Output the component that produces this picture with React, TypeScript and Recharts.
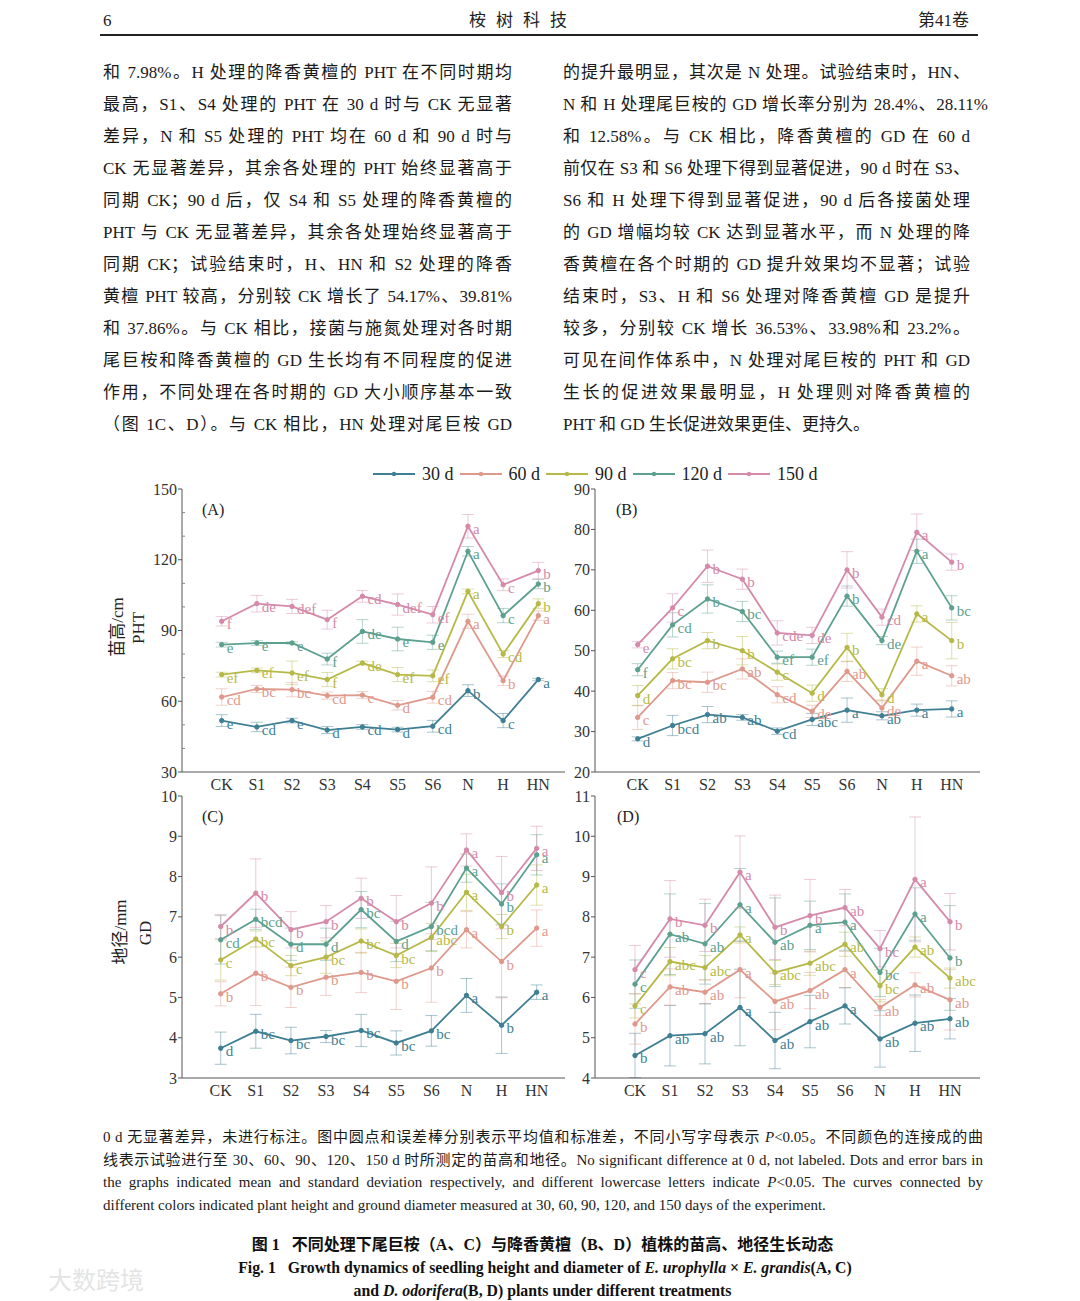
import React from 'react';
import { LineChart, Line, XAxis, YAxis, ErrorBar, LabelList } from 'recharts';

const SERIF = "'Liberation Serif', 'Times New Roman', 'Noto Sans CJK SC', serif";
const TEXT = "'Liberation Serif', 'Noto Sans CJK SC', serif";

const categories = ['CK', 'S1', 'S2', 'S3', 'S4', 'S5', 'S6', 'N', 'H', 'HN'];
const categoryIndex = [0, 1, 2, 3, 4, 5, 6, 7, 8, 9];
const seriesNames = ['30 d', '60 d', '90 d', '120 d', '150 d'];
const seriesColors = ['#3f7f93', '#df998c', '#b6b947', '#5ca08f', '#d48aa8'];

// (A) PHT of E. urophylla x E. grandis
const aMean = [
  [51.8, 49.1, 51.8, 47.8, 49.1, 48.0, 49.4, 64.5, 51.8, 69.2],
  [61.8, 65.2, 64.9, 62.4, 62.6, 58.3, 61.7, 93.9, 68.7, 96.3],
  [71.3, 73.1, 72.0, 69.2, 76.2, 71.3, 70.8, 106.6, 80.0, 101.4],
  [84.0, 84.7, 84.7, 77.9, 89.6, 86.4, 85.0, 123.6, 96.3, 109.7],
  [93.9, 101.4, 100.2, 94.6, 104.5, 101.0, 96.7, 134.2, 109.4, 115.4],
];
const aErr = [
  [2.5, 2, 1, 1.5, 1, 1, 2.5, 2.5, 3, 0.5],
  [3.5, 1.5, 3, 1.5, 1.5, 2, 2.5, 3, 2, 2],
  [1, 1, 5, 3, 0.8, 3, 2.5, 1, 1.5, 2],
  [1, 1, 0.5, 2.5, 5, 5, 3, 2, 3, 2],
  [2, 3.5, 3, 4, 2.5, 4.5, 3.5, 5, 2.5, 3.5],
];
const aSig = [
  ['e', 'cd', 'e', 'd', 'cd', 'd', 'cd', 'b', 'c', 'a'],
  ['cd', 'bc', 'bc', 'cd', 'c', 'd', 'cd', 'a', 'b', 'a'],
  ['ef', 'ef', 'ef', 'f', 'de', 'ef', 'ef', 'a', 'cd', 'b'],
  ['e', 'e', 'e', 'f', 'de', 'e', 'e', 'a', 'c', 'b'],
  ['f', 'de', 'def', 'f', 'cd', 'def', 'ef', 'a', 'c', 'b'],
];

// (B) PHT of D. odorifera
const bMean = [
  [28.2, 31.5, 34.2, 33.5, 30.1, 33.0, 35.3, 33.9, 35.3, 35.6],
  [33.5, 42.6, 42.2, 45.5, 39.1, 35.0, 44.9, 35.8, 47.4, 43.8],
  [38.9, 48.0, 52.5, 50.0, 44.7, 39.5, 50.8, 39.1, 59.1, 52.5],
  [45.3, 56.4, 62.8, 59.7, 48.4, 48.4, 63.5, 52.5, 74.6, 60.6],
  [51.5, 60.6, 70.9, 67.7, 54.4, 53.8, 70.0, 58.3, 79.3, 71.9],
];
const bErr = [
  [0.5, 2.5, 2, 0.7, 0.8, 1.5, 3, 1, 1.5, 2],
  [3, 2, 2.5, 2.5, 2, 1.5, 2.5, 2, 3.5, 2.5],
  [2.5, 2.5, 2, 3.5, 2, 2, 3.5, 1.5, 2, 4.5],
  [1.5, 3, 3.5, 2.5, 1.5, 2, 2.5, 1, 3, 3],
  [0.8, 3.5, 4, 2.5, 3, 2, 4.5, 2, 4.5, 2],
];
const bSig = [
  ['d', 'bcd', 'ab', 'ab', 'cd', 'abc', 'a', 'ab', 'a', 'a'],
  ['c', 'bc', 'bc', 'ab', 'cd', 'de', 'ab', 'de', 'a', 'ab'],
  ['d', 'bc', 'b', 'b', 'c', 'd', 'b', 'd', 'a', 'b'],
  ['f', 'cd', 'b', 'bc', 'ef', 'ef', 'b', 'de', 'a', 'bc'],
  ['e', 'c', 'b', 'b', 'cde', 'de', 'b', 'cd', 'a', 'b'],
];

// (C) GD of E. urophylla x E. grandis
const cMean = [
  [3.74, 4.16, 3.93, 4.03, 4.18, 3.87, 4.17, 5.05, 4.31, 5.13],
  [5.09, 5.60, 5.25, 5.50, 5.62, 5.40, 5.73, 6.68, 5.89, 6.72],
  [5.93, 6.45, 5.79, 6.00, 6.40, 6.04, 6.49, 7.61, 6.76, 7.79],
  [6.43, 6.94, 6.32, 6.32, 7.18, 6.39, 6.76, 8.21, 7.32, 8.54],
  [6.76, 7.59, 6.68, 6.88, 7.46, 6.88, 7.34, 8.66, 7.60, 8.70],
];
const cErr = [
  [0.4, 0.42, 0.33, 0.15, 0.4, 0.3, 0.38, 0.42, 0.7, 0.18],
  [0.3, 0.8, 0.5, 0.45, 0.5, 0.7, 0.85, 0.45, 0.9, 0.45],
  [0.5, 0.2, 0.25, 0.4, 0.3, 0.3, 0.35, 0.45, 0.3, 0.5],
  [0.6, 0.25, 0.4, 0.4, 0.45, 0.5, 0.6, 0.35, 0.5, 0.5],
  [0.3, 0.85, 0.45, 0.4, 0.5, 0.65, 0.9, 0.4, 0.9, 0.55],
];
const cSig = [
  ['d', 'bc', 'bc', 'bc', 'bc', 'bc', 'bc', 'a', 'b', 'a'],
  ['b', 'b', 'b', 'b', 'b', 'b', 'b', 'a', 'b', 'a'],
  ['c', 'bc', 'c', 'bc', 'bc', 'bc', 'abc', 'a', 'b', 'a'],
  ['cd', 'bcd', 'd', 'd', 'bc', 'd', 'bcd', 'a', 'b', 'a'],
  ['b', 'b', 'b', 'b', 'b', 'b', 'b', 'a', 'b', 'a'],
];

// (D) GD of D. odorifera
const dMean = [
  [4.56, 5.05, 5.10, 5.75, 4.93, 5.40, 5.79, 4.97, 5.36, 5.47],
  [5.34, 6.26, 6.13, 6.69, 5.90, 6.17, 6.69, 5.75, 6.31, 5.94],
  [5.79, 6.89, 6.74, 7.55, 6.62, 6.85, 7.32, 6.29, 7.25, 6.48],
  [6.33, 7.57, 7.33, 8.30, 7.37, 7.79, 7.87, 6.62, 8.07, 6.98],
  [6.69, 7.95, 7.79, 9.11, 7.74, 8.03, 8.23, 7.21, 8.93, 7.88],
];
const dErr = [
  [0.55, 0.75, 0.75, 0.95, 0.7, 0.65, 0.45, 0.7, 0.7, 0.5],
  [0.5, 0.45, 0.3, 0.7, 0.7, 0.45, 0.45, 0.2, 0.3, 0.75],
  [0.3, 0.35, 0.3, 0.2, 0.3, 0.3, 0.3, 0.4, 0.25, 0.25],
  [0.6, 1.0, 1.0, 0.9, 1.1, 0.6, 0.7, 0.6, 0.65, 1.3],
  [0.6, 0.95, 0.65, 0.9, 0.8, 0.9, 0.45, 0.45, 1.55, 0.7],
];
const dSig = [
  ['b', 'ab', 'ab', 'a', 'ab', 'ab', 'a', 'ab', 'ab', 'ab'],
  ['b', 'ab', 'ab', 'a', 'ab', 'ab', 'a', 'ab', 'ab', 'ab'],
  ['c', 'abc', 'abc', 'a', 'abc', 'abc', 'ab', 'bc', 'ab', 'abc'],
  ['c', 'ab', 'ab', 'a', 'ab', 'a', 'a', 'bc', 'a', 'b'],
  ['c', 'b', 'b', 'a', 'b', 'b', 'ab', 'bc', 'a', 'b'],
];

const aTicks = [30, 40, 50, 60, 70, 80, 90, 100, 110, 120, 130, 140, 150];
const aTickLabels = [30, 60, 90, 120, 150];
const bTicks = [20, 30, 40, 50, 60, 70, 80, 90];
const cTicks = [3, 4, 5, 6, 7, 8, 9, 10];
const dTicks = [4, 5, 6, 7, 8, 9, 10, 11];

const leftLines = [
  '和 7.98%。H 处理的降香黄檀的 PHT 在不同时期均',
  '最高，S1、S4 处理的 PHT 在 30 d 时与 CK 无显著',
  '差异，N 和 S5 处理的 PHT 均在 60 d 和 90 d 时与',
  'CK 无显著差异，其余各处理的 PHT 始终显著高于',
  '同期 CK；90 d 后，仅 S4 和 S5 处理的降香黄檀的',
  'PHT 与 CK 无显著差异，其余各处理始终显著高于',
  '同期 CK；试验结束时，H、HN 和 S2 处理的降香',
  '黄檀 PHT 较高，分别较 CK 增长了 54.17%、39.81%',
  '和 37.86%。与 CK 相比，接菌与施氮处理对各时期',
  '尾巨桉和降香黄檀的 GD 生长均有不同程度的促进',
  '作用，不同处理在各时期的 GD 大小顺序基本一致',
  '（图 1C、D）。与 CK 相比，HN 处理对尾巨桉 GD',
];
const rightLines = [
  '的提升最明显，其次是 N 处理。试验结束时，HN、',
  'N 和 H 处理尾巨桉的 GD 增长率分别为 28.4%、28.11%',
  '和 12.58%。与 CK 相比，降香黄檀的 GD 在 60 d',
  '前仅在 S3 和 S6 处理下得到显著促进，90 d 时在 S3、',
  'S6 和 H 处理下得到显著促进，90 d 后各接菌处理',
  '的 GD 增幅均较 CK 达到显著水平，而 N 处理的降',
  '香黄檀在各个时期的 GD 提升效果均不显著；试验',
  '结束时，S3、H 和 S6 处理对降香黄檀 GD 是提升',
  '较多，分别较 CK 增长 36.53%、33.98%和 23.2%。',
  '可见在间作体系中，N 处理对尾巨桉的 PHT 和 GD',
  '生长的促进效果最明显，H 处理则对降香黄檀的',
  'PHT 和 GD 生长促进效果更佳、更持久。',
];

function buildRows(mean: number[][], err: number[][], sig: string[][]) {
  return categories.map((c, i) => {
    const r: any = { cat: c, idx: categoryIndex[i] };
    for (let s = 0; s < mean.length; s++) {
      r['m' + s] = mean[s][i];
      r['e' + s] = err[s][i];
      r['l' + s] = sig[s][i];
    }
    return r;
  });
}

const sigLabel = (color: string) => (p: any) => {
  const { x, y, value } = p;
  if (x == null || y == null) return null;
  return (
    <text x={Number(x) + 5} y={Number(y) + 3} fill={color} fontSize={15} fontFamily={SERIF} dominantBaseline="central">
      {value}
    </text>
  );
};

const makeYTick = (labeled: number[] | null) => (p: any) => {
  const { x, y, payload } = p;
  const v = payload.value;
  const major = !labeled || labeled.indexOf(v) >= 0;
  return (
    <g>
      {major ? (
        <line x1={x} x2={x - 4} y1={y} y2={y} stroke="#555" strokeWidth={1} />
      ) : (
        <line x1={x} x2={x + 3} y1={y} y2={y} stroke="#888" strokeWidth={1} />
      )}
      {major && (
        <text x={x - 5} y={y} textAnchor="end" dominantBaseline="central" fontSize={16} fill="#333" fontFamily={SERIF}>
          {v}
        </text>
      )}
    </g>
  );
};

type PanelProps = {
  plot: [number, number, number, number];
  domain: [number, number];
  xDomain: [number, number];
  ticks: number[];
  labeled: number[] | null;
  tag: string;
  tagPos: [number, number];
  rows: any[];
};

function Panel({ plot, domain, xDomain, ticks, labeled, tag, tagPos, rows }: PanelProps) {
  const [pl, pt, pr, pb] = plot;
  const mL = 42, yW = 40, mT = 20, mR = 12, xH = 28;
  const left = pl - mL - yW;
  const top = pt - mT;
  const width = pr + mR - left;
  const height = pb + xH - top;
  return (
    <>
      <div style={{ position: 'absolute', left, top, width, height }}>
        <LineChart width={width} height={height} data={rows} margin={{ top: mT, right: mR, bottom: 0, left: mL }}>
          <XAxis
            dataKey="idx"
            type="number"
            domain={xDomain}
            ticks={categoryIndex}
            tickFormatter={(v: number) => categories[v]}
            allowDataOverflow
            height={xH}
            tickLine={false}
            tickSize={0}
            tickMargin={7}
            interval={0}
            axisLine={{ stroke: '#555', strokeWidth: 1 }}
            tick={{ fontSize: 16, fill: '#333', fontFamily: SERIF }}
          />
          <YAxis
            type="number"
            domain={domain}
            ticks={ticks}
            width={yW}
            interval={0}
            tickLine={false}
            tickSize={0}
            tickMargin={0}
            allowDataOverflow
            axisLine={{ stroke: '#555', strokeWidth: 1 }}
            tick={makeYTick(labeled)}
          />
          {seriesNames.map((name, s) => (
            <Line
              key={name}
              name={name}
              type="linear"
              dataKey={'m' + s}
              stroke={seriesColors[s]}
              strokeWidth={1.8}
              dot={{ r: 2.2, fill: seriesColors[s], stroke: seriesColors[s], strokeWidth: 1 }}
              activeDot={false}
              isAnimationActive={false}
            >
              <ErrorBar dataKey={'e' + s} width={6} stroke={seriesColors[s]} strokeOpacity={0.45} strokeWidth={1} direction="y" isAnimationActive={false} />
              <LabelList dataKey={'l' + s} content={sigLabel(seriesColors[s])} />
            </Line>
          ))}
        </LineChart>
      </div>
      <div style={{ position: 'absolute', left: tagPos[0], top: tagPos[1] - 10, fontSize: 16, lineHeight: '20px', fontFamily: SERIF, color: '#222' }}>
        {tag}
      </div>
    </>
  );
}

function RotLabel({ cx, cy, text }: { cx: number; cy: number; text: string }) {
  return (
    <div
      style={{
        position: 'absolute',
        left: cx,
        top: cy,
        transform: 'translate(-50%, -50%) rotate(-90deg)',
        whiteSpace: 'nowrap',
        fontSize: 17,
        lineHeight: '20px',
        fontFamily: TEXT,
        color: '#222',
      }}
    >
      {text}
    </div>
  );
}

function JLine({ left, top, width, children, last, size, lh }: any) {
  return (
    <div
      style={{
        position: 'absolute',
        left,
        top,
        width,
        fontSize: size,
        lineHeight: lh + 'px',
        height: lh,
        textAlign: last ? 'left' : 'justify',
        textAlignLast: last ? 'left' : 'justify',
        fontFamily: TEXT,
        color: '#1a1a1a',
      }}
    >
      {children}
    </div>
  );
}

export default function App() {
  const rowsA = buildRows(aMean, aErr, aSig);
  const rowsB = buildRows(bMean, bErr, bSig);
  const rowsC = buildRows(cMean, cErr, cSig);
  const rowsD = buildRows(dMean, dErr, dSig);
  return (
    <div style={{ position: 'absolute', left: 0, top: 0, width: 1080, height: 1301, background: '#fff', overflow: 'hidden' }}>
      {/* header */}
      <div style={{ position: 'absolute', left: 103, top: 10, fontSize: 17, lineHeight: '22px', fontFamily: TEXT, color: '#222' }}>6</div>
      <div style={{ position: 'absolute', left: 469, top: 10, fontSize: 17, lineHeight: '22px', fontFamily: TEXT, color: '#222', letterSpacing: '10px' }}>桉树科技</div>
      <div style={{ position: 'absolute', left: 918, top: 10, fontSize: 17, lineHeight: '22px', fontFamily: TEXT, color: '#222' }}>第41卷</div>
      <div style={{ position: 'absolute', left: 100, top: 34, width: 878, height: 2, background: '#222' }} />

      {leftLines.map((t, i) => (
        <JLine key={'l' + i} left={103} top={57 + 32 * i} width={409} size={17} lh={32}>{t}</JLine>
      ))}
      {rightLines.map((t, i) => (
        <JLine key={'r' + i} left={563} top={57 + 32 * i} width={i === 1 ? 425 : 407} size={17} lh={32} last={i === rightLines.length - 1}>{t}</JLine>
      ))}

      {/* legend */}
      <div style={{ position: 'absolute', left: 373, top: 462, height: 24, display: 'flex', alignItems: 'center' }}>
        {seriesNames.map((n, s) => (
          <div key={n} style={{ display: 'flex', alignItems: 'center', marginRight: 6 }}>
            <svg width={42} height={10}>
              <line x1={0} x2={42} y1={5} y2={5} stroke={seriesColors[s]} strokeWidth={1.8} />
              <circle cx={21} cy={5} r={2.2} fill={seriesColors[s]} />
            </svg>
            <span style={{ marginLeft: 7, fontSize: 18, fontFamily: SERIF, color: '#222', lineHeight: '24px' }}>{n}</span>
          </div>
        ))}
      </div>

      <Panel plot={[182, 489, 565, 772]} domain={[30, 150]} xDomain={[-1.128, 9.759]} ticks={aTicks} labeled={aTickLabels} tag="(A)" tagPos={[202, 510]} rows={rowsA} />
      <Panel plot={[595, 489, 980, 772]} domain={[20, 90]} xDomain={[-1.224, 9.811]} ticks={bTicks} labeled={null} tag="(B)" tagPos={[616, 510]} rows={rowsB} />
      <Panel plot={[182, 796, 565, 1078]} domain={[3, 10]} xDomain={[-1.102, 9.806]} ticks={cTicks} labeled={null} tag="(C)" tagPos={[202, 817]} rows={rowsC} />
      <Panel plot={[595, 796, 980, 1078]} domain={[4, 11]} xDomain={[-1.143, 9.857]} ticks={dTicks} labeled={null} tag="(D)" tagPos={[617, 817]} rows={rowsD} />

      <RotLabel cx={118} cy={627} text="苗高/cm" />
      <RotLabel cx={139} cy={628} text="PHT" />
      <RotLabel cx={121} cy={932} text="地径/mm" />
      <RotLabel cx={146} cy={933} text="GD" />

      <JLine left={103} top={1126} width={880} size={15} lh={22}>
        0 d 无显著差异，未进行标注。图中圆点和误差棒分别表示平均值和标准差，不同小写字母表示 <i>P</i>&lt;0.05。不同颜色的连接成的曲
      </JLine>
      <JLine left={103} top={1149} width={880} size={15} lh={22}>
        线表示试验进行至 30、60、90、120、150 d 时所测定的苗高和地径。No significant difference at 0 d, not labeled. Dots and error bars in
      </JLine>
      <JLine left={103} top={1171} width={880} size={15} lh={22}>
        the graphs indicated mean and standard deviation respectively, and different lowercase letters indicate <i>P</i>&lt;0.05. The curves connected by
      </JLine>
      <JLine left={103} top={1194} width={880} size={15} lh={22} last>
        different colors indicated plant height and ground diameter measured at 30, 60, 90, 120, and 150 days of the experiment.
      </JLine>

      <div style={{ position: 'absolute', left: 0, width: 1085, top: 1234, textAlign: 'center', fontSize: 16, lineHeight: '22px', fontFamily: TEXT, fontWeight: 'bold', color: '#111' }}>
        图 1&nbsp;&nbsp;&nbsp;不同处理下尾巨桉（A、C）与降香黄檀（B、D）植株的苗高、地径生长动态
      </div>
      <div style={{ position: 'absolute', left: 0, width: 1090, top: 1257, textAlign: 'center', fontSize: 15.8, lineHeight: '22px', fontFamily: SERIF, fontWeight: 'bold', color: '#111' }}>
        Fig. 1&nbsp;&nbsp;&nbsp;Growth dynamics of seedling height and diameter of <i>E. urophylla</i> × <i>E. grandis</i>(A, C)
      </div>
      <div style={{ position: 'absolute', left: 0, width: 1085, top: 1280, textAlign: 'center', fontSize: 15.8, lineHeight: '22px', fontFamily: SERIF, fontWeight: 'bold', color: '#111' }}>
        and <i>D. odorifera</i>(B, D) plants under different treatments
      </div>

      <div style={{ position: 'absolute', left: 48, top: 1266, fontSize: 24, lineHeight: '30px', fontFamily: TEXT, color: '#e4e4e4' }}>大数跨境</div>
    </div>
  );
}
